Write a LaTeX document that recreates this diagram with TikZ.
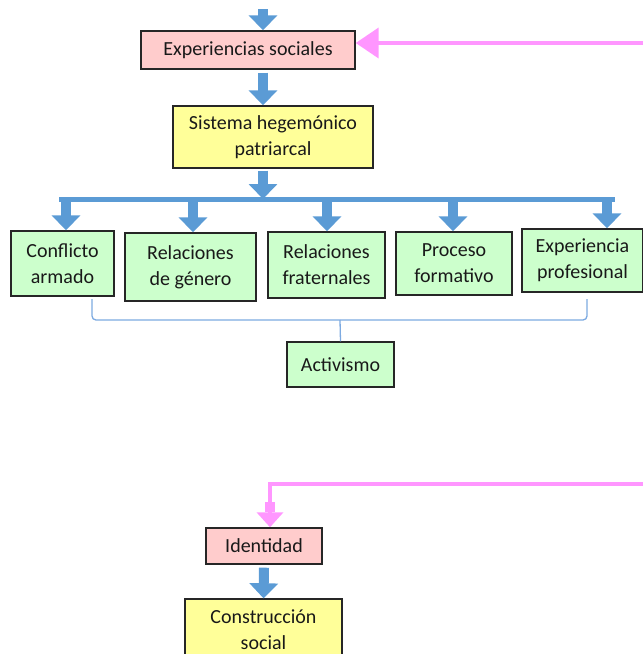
\documentclass[tikz,border=0pt]{standalone}
\usepackage{fontspec}
\setmainfont{Carlito}
\definecolor{myBlue}{RGB}{91,155,213}
\definecolor{myPink}{RGB}{255,150,255}
\definecolor{myRose}{RGB}{255,204,204}
\definecolor{myYellow}{RGB}{255,255,153}
\definecolor{myGreen}{RGB}{204,255,204}
\definecolor{myBrace}{RGB}{125,170,225}
\usetikzlibrary{arrows.meta,positioning}
\tikzset{
    box/.style={draw=black!85, line width=1.4pt, inner sep=0pt, align=center,
        font=\fontsize{20}{26}\selectfont, text=black!90},
    rosebox/.style={box, fill=myRose},
    yellowbox/.style={box, fill=myYellow},
    greenbox/.style={box, fill=myGreen},
    blockarrow/.style={myBlue, line width=10pt, -{Triangle[width=28pt,length=15pt]}},
    barline/.style={myBlue, line width=5pt},
    pinkarrow/.style={myPink, line width=4pt, -{Triangle[width=30pt,length=23pt]}},
    pinkblock/.style={myPink, line width=4pt, -{Rectangle[width=10pt,length=10pt,sep=0pt]Triangle[width=26pt,length=15pt]}},
    bracket/.style={myBrace, line width=1.3pt, rounded corners=4pt}
}
\begin{document}
\begin{tikzpicture}[x=1pt,y=-1pt]
    \useasboundingbox (0,0) rectangle (643,654);

    % upper chain
    \coordinate (top) at (263,9);
    \node[rosebox, minimum width=214pt, minimum height=38pt] (expsoc) at (248,50) {Experiencias sociales};
    \node[yellowbox, minimum width=200pt, minimum height=62pt] (sistema) at (273,137) {Sistema hegemónico\\patriarcal};
    \draw[blockarrow] (top) -- (top |- expsoc.north);
    \draw[blockarrow] ([yshift=-3pt]top |- expsoc.south) -- (top |- sistema.north);

    % feedback from the right
    \coordinate (pinkA) at (643,43);
    \draw[pinkarrow] (pinkA) -- (expsoc.east |- pinkA);

    % bar and the five factors
    \coordinate (barL) at (59,199);
    \coordinate (barR) at (615,199);
    \draw[blockarrow] ([yshift=-2pt]top |- sistema.south) -- (top |- barL);
    \draw[barline] (barL) -- (barR);

    \node[greenbox, minimum width=103pt, minimum height=65pt] (conf) at (62.5,263.5) {Conflicto\\armado};
    \node[greenbox, minimum width=131pt, minimum height=68pt] (relgen) at (190.5,267) {Relaciones\\de género};
    \node[greenbox, minimum width=117pt, minimum height=66pt] (relfra) at (326.5,265) {Relaciones\\fraternales};
    \node[greenbox, minimum width=116pt, minimum height=63pt] (procform) at (454,263.5) {Proceso\\formativo};
    \node[greenbox, minimum width=121pt, minimum height=63pt] (expprof) at (582.5,260.5) {Experiencia\\profesional};

    \draw[blockarrow] ([xshift=3.5pt]conf.north |- barL) -- ([xshift=3.5pt]conf.north);
    \draw[blockarrow] ([xshift=2.5pt]relgen.north |- barL) -- ([xshift=2.5pt]relgen.north);
    \draw[blockarrow] ([xshift=0.5pt]relfra.north |- barL) -- ([xshift=0.5pt]relfra.north);
    \draw[blockarrow] ([xshift=-1pt]procform.north |- barL) -- ([xshift=-1pt]procform.north);
    \draw[blockarrow] ([xshift=24.5pt]expprof.north |- barL) -- ([xshift=24.5pt]expprof.north);

    % brace to activism
    \node[greenbox, minimum width=107pt, minimum height=45pt] (acti) at (340.5,364.5) {Activismo};
    \coordinate (brL) at (92,299);
    \coordinate (brR) at (587,299);
    \coordinate (brM) at (340,320);
    \draw[bracket] (brL) |- (brM) -| (brR);
    \draw[bracket] (brM) -- (acti.north);

    % lower chain
    \node[rosebox, minimum width=116pt, minimum height=36pt] (iden) at (264,546) {Identidad};
    \node[yellowbox, minimum width=157pt, minimum height=62pt] (constr) at (263.5,630) {Construcción\\social};
    \coordinate (pinkB) at (643,484);
    \draw[pinkblock] (pinkB) -| ([xshift=6pt]iden.north);
    \draw[blockarrow] ([yshift=-3pt]iden.south) -- (constr.north);
\end{tikzpicture}
\end{document}
